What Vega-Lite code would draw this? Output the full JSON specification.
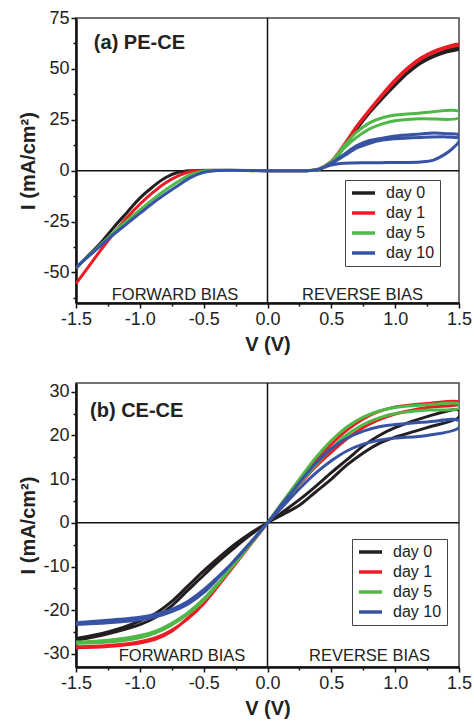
{
  "$schema": "https://vega.github.io/schema/vega-lite/v6.json",
  "padding": {"top": 8, "left": 18, "right": 0, "bottom": 0},
  "background": "white",
  "spacing": 26,
  "config": {
    "font": "Liberation Sans",
    "view": {"stroke": "#444", "strokeWidth": 1.5},
    "axis": {
      "grid": false, "domainColor": "#111", "domainWidth": 2.5, "tickColor": "#111", "tickWidth": 1.5,
      "tickSize": 5, "labelFont": "Liberation Sans", "labelFontSize": 18, "labelColor": "#222",
      "labelPadding": 2, "titleFont": "Liberation Sans", "titleFontSize": 20, "titleFontWeight": "bold",
      "titleColor": "#222", "labelFlush": false, "labelOverlap": false
    },
    "legend": {
      "orient": "none", "title": null, "symbolType": "stroke", "symbolSize": 529, "symbolStrokeWidth": 3.5,
      "labelFont": "Liberation Sans", "labelFontSize": 16, "labelColor": "#222", "strokeColor": "#444",
      "fillColor": "white", "padding": 5, "rowPadding": 4, "clipHeight": 16, "labelOffset": 9
    }
  },
  "datasets": {
    "a": [
      {"day": "day 0", "k": 1, "V": -1.5, "I": -48}, {"day": "day 0", "k": 2, "V": -1.4, "I": -41.5}, {"day": "day 0", "k": 3, "V": -1.3, "I": -35}, {"day": "day 0", "k": 4, "V": -1.2, "I": -27.5}, {"day": "day 0", "k": 5, "V": -1.1, "I": -20.5}, {"day": "day 0", "k": 6, "V": -1.0, "I": -13.5}, {"day": "day 0", "k": 7, "V": -0.9, "I": -8}, {"day": "day 0", "k": 8, "V": -0.8, "I": -3.5}, {"day": "day 0", "k": 9, "V": -0.7, "I": -0.8}, {"day": "day 0", "k": 10, "V": -0.6, "I": 0}, {"day": "day 0", "k": 11, "V": 0, "I": 0}, {"day": "day 0", "k": 12, "V": 0.3, "I": 0}, {"day": "day 0", "k": 13, "V": 0.4, "I": 0.6}, {"day": "day 0", "k": 14, "V": 0.5, "I": 4}, {"day": "day 0", "k": 15, "V": 0.6, "I": 11.5}, {"day": "day 0", "k": 16, "V": 0.7, "I": 20.5}, {"day": "day 0", "k": 17, "V": 0.8, "I": 28.5}, {"day": "day 0", "k": 18, "V": 0.9, "I": 35.5}, {"day": "day 0", "k": 19, "V": 1.0, "I": 42}, {"day": "day 0", "k": 20, "V": 1.1, "I": 48}, {"day": "day 0", "k": 21, "V": 1.2, "I": 52.8}, {"day": "day 0", "k": 22, "V": 1.3, "I": 56}, {"day": "day 0", "k": 23, "V": 1.4, "I": 58.3}, {"day": "day 0", "k": 24, "V": 1.5, "I": 59.8},
      {"day": "day 0", "k": 25, "V": 1.5, "I": 60.5}, {"day": "day 0", "k": 26, "V": 1.4, "I": 59}, {"day": "day 0", "k": 27, "V": 1.3, "I": 56.5}, {"day": "day 0", "k": 28, "V": 1.2, "I": 53.3}, {"day": "day 0", "k": 29, "V": 1.1, "I": 48.6}, {"day": "day 0", "k": 30, "V": 1.0, "I": 42.8}, {"day": "day 0", "k": 31, "V": 0.9, "I": 36.3}, {"day": "day 0", "k": 32, "V": 0.8, "I": 29.2}, {"day": "day 0", "k": 33, "V": 0.7, "I": 21.2}, {"day": "day 0", "k": 34, "V": 0.6, "I": 12.3}, {"day": "day 0", "k": 35, "V": 0.5, "I": 4.5}, {"day": "day 0", "k": 36, "V": 0.4, "I": 0.8}, {"day": "day 0", "k": 37, "V": 0.3, "I": 0},

      {"day": "day 1", "k": 1, "V": -1.5, "I": -55.5}, {"day": "day 1", "k": 2, "V": -1.4, "I": -47}, {"day": "day 1", "k": 3, "V": -1.3, "I": -38.5}, {"day": "day 1", "k": 4, "V": -1.2, "I": -30.5}, {"day": "day 1", "k": 5, "V": -1.1, "I": -23}, {"day": "day 1", "k": 6, "V": -1.0, "I": -16.5}, {"day": "day 1", "k": 7, "V": -0.9, "I": -10.8}, {"day": "day 1", "k": 8, "V": -0.8, "I": -6}, {"day": "day 1", "k": 9, "V": -0.7, "I": -2.5}, {"day": "day 1", "k": 10, "V": -0.6, "I": -0.4}, {"day": "day 1", "k": 11, "V": -0.55, "I": 0}, {"day": "day 1", "k": 12, "V": 0, "I": 0}, {"day": "day 1", "k": 13, "V": 0.3, "I": 0}, {"day": "day 1", "k": 14, "V": 0.4, "I": 0.6}, {"day": "day 1", "k": 15, "V": 0.5, "I": 4.2}, {"day": "day 1", "k": 16, "V": 0.6, "I": 12.3}, {"day": "day 1", "k": 17, "V": 0.7, "I": 21.5}, {"day": "day 1", "k": 18, "V": 0.8, "I": 29.5}, {"day": "day 1", "k": 19, "V": 0.9, "I": 37}, {"day": "day 1", "k": 20, "V": 1.0, "I": 44}, {"day": "day 1", "k": 21, "V": 1.1, "I": 50}, {"day": "day 1", "k": 22, "V": 1.2, "I": 54.8}, {"day": "day 1", "k": 23, "V": 1.3, "I": 58}, {"day": "day 1", "k": 24, "V": 1.4, "I": 60.3}, {"day": "day 1", "k": 25, "V": 1.5, "I": 61.8},
      {"day": "day 1", "k": 26, "V": 1.5, "I": 62.3}, {"day": "day 1", "k": 27, "V": 1.4, "I": 60.8}, {"day": "day 1", "k": 28, "V": 1.3, "I": 58.6}, {"day": "day 1", "k": 29, "V": 1.2, "I": 55.3}, {"day": "day 1", "k": 30, "V": 1.1, "I": 50.6}, {"day": "day 1", "k": 31, "V": 1.0, "I": 44.6}, {"day": "day 1", "k": 32, "V": 0.9, "I": 37.6}, {"day": "day 1", "k": 33, "V": 0.8, "I": 30}, {"day": "day 1", "k": 34, "V": 0.7, "I": 22}, {"day": "day 1", "k": 35, "V": 0.6, "I": 12.8}, {"day": "day 1", "k": 36, "V": 0.5, "I": 4.6}, {"day": "day 1", "k": 37, "V": 0.4, "I": 0.8}, {"day": "day 1", "k": 38, "V": 0.3, "I": 0},

      {"day": "day 5", "k": 1, "V": -1.5, "I": -47.8}, {"day": "day 5", "k": 2, "V": -1.4, "I": -41.8}, {"day": "day 5", "k": 3, "V": -1.3, "I": -36}, {"day": "day 5", "k": 4, "V": -1.2, "I": -30}, {"day": "day 5", "k": 5, "V": -1.1, "I": -24.5}, {"day": "day 5", "k": 6, "V": -1.0, "I": -19.3}, {"day": "day 5", "k": 7, "V": -0.9, "I": -14.2}, {"day": "day 5", "k": 8, "V": -0.8, "I": -9.5}, {"day": "day 5", "k": 9, "V": -0.7, "I": -5.3}, {"day": "day 5", "k": 10, "V": -0.6, "I": -2}, {"day": "day 5", "k": 11, "V": -0.5, "I": -0.3}, {"day": "day 5", "k": 12, "V": -0.45, "I": 0}, {"day": "day 5", "k": 13, "V": 0, "I": 0}, {"day": "day 5", "k": 14, "V": 0.3, "I": 0}, {"day": "day 5", "k": 15, "V": 0.4, "I": 0.6}, {"day": "day 5", "k": 16, "V": 0.5, "I": 4}, {"day": "day 5", "k": 17, "V": 0.6, "I": 11}, {"day": "day 5", "k": 18, "V": 0.7, "I": 16.5}, {"day": "day 5", "k": 19, "V": 0.8, "I": 20.5}, {"day": "day 5", "k": 20, "V": 0.9, "I": 23}, {"day": "day 5", "k": 21, "V": 1.0, "I": 24.5}, {"day": "day 5", "k": 22, "V": 1.2, "I": 25.5}, {"day": "day 5", "k": 23, "V": 1.5, "I": 26},
      {"day": "day 5", "k": 24, "V": 1.5, "I": 29}, {"day": "day 5", "k": 25, "V": 1.2, "I": 28.3}, {"day": "day 5", "k": 26, "V": 1.0, "I": 27.3}, {"day": "day 5", "k": 27, "V": 0.9, "I": 26}, {"day": "day 5", "k": 28, "V": 0.8, "I": 23.5}, {"day": "day 5", "k": 29, "V": 0.7, "I": 19}, {"day": "day 5", "k": 30, "V": 0.6, "I": 12.2}, {"day": "day 5", "k": 31, "V": 0.5, "I": 4.4}, {"day": "day 5", "k": 32, "V": 0.4, "I": 0.8}, {"day": "day 5", "k": 33, "V": 0.3, "I": 0},

      {"day": "day 10", "k": 1, "V": -1.5, "I": -47.5}, {"day": "day 10", "k": 2, "V": -1.4, "I": -42}, {"day": "day 10", "k": 3, "V": -1.3, "I": -36.5}, {"day": "day 10", "k": 4, "V": -1.2, "I": -31}, {"day": "day 10", "k": 5, "V": -1.1, "I": -26}, {"day": "day 10", "k": 6, "V": -1.0, "I": -21}, {"day": "day 10", "k": 7, "V": -0.9, "I": -16}, {"day": "day 10", "k": 8, "V": -0.8, "I": -11.5}, {"day": "day 10", "k": 9, "V": -0.7, "I": -7.3}, {"day": "day 10", "k": 10, "V": -0.6, "I": -3.3}, {"day": "day 10", "k": 11, "V": -0.5, "I": -0.8}, {"day": "day 10", "k": 12, "V": -0.42, "I": 0}, {"day": "day 10", "k": 13, "V": 0, "I": 0}, {"day": "day 10", "k": 14, "V": 0.3, "I": 0}, {"day": "day 10", "k": 15, "V": 0.4, "I": 0.6}, {"day": "day 10", "k": 16, "V": 0.45, "I": 1.8}, {"day": "day 10", "k": 17, "V": 0.5, "I": 2.8}, {"day": "day 10", "k": 18, "V": 0.6, "I": 3.6}, {"day": "day 10", "k": 19, "V": 0.8, "I": 3.9}, {"day": "day 10", "k": 20, "V": 1.0, "I": 4.0}, {"day": "day 10", "k": 21, "V": 1.2, "I": 4.3}, {"day": "day 10", "k": 22, "V": 1.3, "I": 5.2}, {"day": "day 10", "k": 23, "V": 1.4, "I": 8.5}, {"day": "day 10", "k": 24, "V": 1.45, "I": 11}, {"day": "day 10", "k": 25, "V": 1.5, "I": 14.5},
      {"day": "day 10", "k": 26, "V": 1.5, "I": 17.5}, {"day": "day 10", "k": 27, "V": 1.4, "I": 18.2}, {"day": "day 10", "k": 28, "V": 1.3, "I": 18.5}, {"day": "day 10", "k": 29, "V": 1.2, "I": 18}, {"day": "day 10", "k": 30, "V": 1.0, "I": 17}, {"day": "day 10", "k": 31, "V": 0.9, "I": 16}, {"day": "day 10", "k": 32, "V": 0.8, "I": 14.8}, {"day": "day 10", "k": 33, "V": 0.7, "I": 12.3}, {"day": "day 10", "k": 34, "V": 0.6, "I": 8}, {"day": "day 10", "k": 35, "V": 0.5, "I": 3.8}, {"day": "day 10", "k": 36, "V": 0.45, "I": 2}, {"day": "day 10", "k": 37, "V": 0.5, "I": 3.5}, {"day": "day 10", "k": 38, "V": 0.6, "I": 7.3}, {"day": "day 10", "k": 39, "V": 0.7, "I": 11.2}, {"day": "day 10", "k": 40, "V": 0.8, "I": 13.5}, {"day": "day 10", "k": 41, "V": 0.9, "I": 15}, {"day": "day 10", "k": 42, "V": 1.0, "I": 15.7}, {"day": "day 10", "k": 43, "V": 1.2, "I": 16.3}, {"day": "day 10", "k": 44, "V": 1.4, "I": 16.6}, {"day": "day 10", "k": 45, "V": 1.5, "I": 16.2}
    ],
    "b": [
      {"day": "day 0", "k": 1, "V": -1.5, "I": -26.9}, {"day": "day 0", "k": 2, "V": -1.25, "I": -25.4}, {"day": "day 0", "k": 3, "V": -1.0, "I": -23.3}, {"day": "day 0", "k": 4, "V": -0.875, "I": -21.6}, {"day": "day 0", "k": 5, "V": -0.75, "I": -19}, {"day": "day 0", "k": 6, "V": -0.625, "I": -15.5}, {"day": "day 0", "k": 7, "V": -0.5, "I": -12}, {"day": "day 0", "k": 8, "V": -0.375, "I": -8.6}, {"day": "day 0", "k": 9, "V": -0.25, "I": -5.5}, {"day": "day 0", "k": 10, "V": -0.125, "I": -2.6}, {"day": "day 0", "k": 11, "V": 0, "I": 0}, {"day": "day 0", "k": 12, "V": 0.125, "I": 2}, {"day": "day 0", "k": 13, "V": 0.25, "I": 4}, {"day": "day 0", "k": 14, "V": 0.375, "I": 7}, {"day": "day 0", "k": 15, "V": 0.5, "I": 10}, {"day": "day 0", "k": 16, "V": 0.625, "I": 13.3}, {"day": "day 0", "k": 17, "V": 0.75, "I": 16}, {"day": "day 0", "k": 18, "V": 0.875, "I": 18.2}, {"day": "day 0", "k": 19, "V": 1.0, "I": 19.6}, {"day": "day 0", "k": 20, "V": 1.25, "I": 21.8}, {"day": "day 0", "k": 21, "V": 1.5, "I": 24.2},
      {"day": "day 0", "k": 22, "V": 1.5, "I": 25.8}, {"day": "day 0", "k": 23, "V": 1.25, "I": 24.3}, {"day": "day 0", "k": 24, "V": 1.0, "I": 21.8}, {"day": "day 0", "k": 25, "V": 0.875, "I": 20}, {"day": "day 0", "k": 26, "V": 0.75, "I": 17.6}, {"day": "day 0", "k": 27, "V": 0.625, "I": 14.5}, {"day": "day 0", "k": 28, "V": 0.5, "I": 11.5}, {"day": "day 0", "k": 29, "V": 0.375, "I": 8.3}, {"day": "day 0", "k": 30, "V": 0.25, "I": 5.3}, {"day": "day 0", "k": 31, "V": 0.125, "I": 2.6}, {"day": "day 0", "k": 32, "V": 0, "I": 0}, {"day": "day 0", "k": 33, "V": -0.125, "I": -2.2}, {"day": "day 0", "k": 34, "V": -0.25, "I": -4.8}, {"day": "day 0", "k": 35, "V": -0.375, "I": -7.8}, {"day": "day 0", "k": 36, "V": -0.5, "I": -11}, {"day": "day 0", "k": 37, "V": -0.625, "I": -14.5}, {"day": "day 0", "k": 38, "V": -0.75, "I": -18}, {"day": "day 0", "k": 39, "V": -0.875, "I": -20.7}, {"day": "day 0", "k": 40, "V": -1.0, "I": -22.5}, {"day": "day 0", "k": 41, "V": -1.25, "I": -25}, {"day": "day 0", "k": 42, "V": -1.5, "I": -26.5},

      {"day": "day 1", "k": 1, "V": -1.5, "I": -28.6}, {"day": "day 1", "k": 2, "V": -1.25, "I": -28.3}, {"day": "day 1", "k": 3, "V": -1.0, "I": -27.5}, {"day": "day 1", "k": 4, "V": -0.875, "I": -26.6}, {"day": "day 1", "k": 5, "V": -0.75, "I": -24.8}, {"day": "day 1", "k": 6, "V": -0.625, "I": -21.8}, {"day": "day 1", "k": 7, "V": -0.5, "I": -18.3}, {"day": "day 1", "k": 8, "V": -0.375, "I": -13.8}, {"day": "day 1", "k": 9, "V": -0.25, "I": -9.2}, {"day": "day 1", "k": 10, "V": -0.125, "I": -4.6}, {"day": "day 1", "k": 11, "V": 0, "I": 0}, {"day": "day 1", "k": 12, "V": 0.125, "I": 4.4}, {"day": "day 1", "k": 13, "V": 0.25, "I": 8.8}, {"day": "day 1", "k": 14, "V": 0.375, "I": 12.8}, {"day": "day 1", "k": 15, "V": 0.5, "I": 16.2}, {"day": "day 1", "k": 16, "V": 0.625, "I": 19.3}, {"day": "day 1", "k": 17, "V": 0.75, "I": 21.8}, {"day": "day 1", "k": 18, "V": 0.875, "I": 23.6}, {"day": "day 1", "k": 19, "V": 1.0, "I": 24.9}, {"day": "day 1", "k": 20, "V": 1.25, "I": 26.4}, {"day": "day 1", "k": 21, "V": 1.5, "I": 27.2},
      {"day": "day 1", "k": 22, "V": 1.5, "I": 27.7}, {"day": "day 1", "k": 23, "V": 1.25, "I": 27.3}, {"day": "day 1", "k": 24, "V": 1.0, "I": 26.5}, {"day": "day 1", "k": 25, "V": 0.875, "I": 25.5}, {"day": "day 1", "k": 26, "V": 0.75, "I": 23.8}, {"day": "day 1", "k": 27, "V": 0.625, "I": 21.3}, {"day": "day 1", "k": 28, "V": 0.5, "I": 18}, {"day": "day 1", "k": 29, "V": 0.375, "I": 14.2}, {"day": "day 1", "k": 30, "V": 0.25, "I": 9.6}, {"day": "day 1", "k": 31, "V": 0.125, "I": 4.9}, {"day": "day 1", "k": 32, "V": 0, "I": 0}, {"day": "day 1", "k": 33, "V": -0.125, "I": -4.7}, {"day": "day 1", "k": 34, "V": -0.25, "I": -9.4}, {"day": "day 1", "k": 35, "V": -0.375, "I": -14}, {"day": "day 1", "k": 36, "V": -0.5, "I": -18.5}, {"day": "day 1", "k": 37, "V": -0.625, "I": -22}, {"day": "day 1", "k": 38, "V": -0.75, "I": -24.6}, {"day": "day 1", "k": 39, "V": -0.875, "I": -26.3}, {"day": "day 1", "k": 40, "V": -1.0, "I": -27.2}, {"day": "day 1", "k": 41, "V": -1.25, "I": -28.1}, {"day": "day 1", "k": 42, "V": -1.5, "I": -28.4},

      {"day": "day 5", "k": 1, "V": -1.5, "I": -27.6}, {"day": "day 5", "k": 2, "V": -1.25, "I": -27.3}, {"day": "day 5", "k": 3, "V": -1.0, "I": -26.3}, {"day": "day 5", "k": 4, "V": -0.875, "I": -25.2}, {"day": "day 5", "k": 5, "V": -0.75, "I": -23.4}, {"day": "day 5", "k": 6, "V": -0.625, "I": -20.9}, {"day": "day 5", "k": 7, "V": -0.5, "I": -17.8}, {"day": "day 5", "k": 8, "V": -0.375, "I": -13.6}, {"day": "day 5", "k": 9, "V": -0.25, "I": -9.1}, {"day": "day 5", "k": 10, "V": -0.125, "I": -4.6}, {"day": "day 5", "k": 11, "V": 0, "I": 0}, {"day": "day 5", "k": 12, "V": 0.125, "I": 4.5}, {"day": "day 5", "k": 13, "V": 0.25, "I": 9}, {"day": "day 5", "k": 14, "V": 0.375, "I": 13.2}, {"day": "day 5", "k": 15, "V": 0.5, "I": 17}, {"day": "day 5", "k": 16, "V": 0.625, "I": 20.2}, {"day": "day 5", "k": 17, "V": 0.75, "I": 22.5}, {"day": "day 5", "k": 18, "V": 0.875, "I": 24}, {"day": "day 5", "k": 19, "V": 1.0, "I": 25}, {"day": "day 5", "k": 20, "V": 1.25, "I": 25.8}, {"day": "day 5", "k": 21, "V": 1.5, "I": 26.2},
      {"day": "day 5", "k": 22, "V": 1.5, "I": 27.2}, {"day": "day 5", "k": 23, "V": 1.25, "I": 27}, {"day": "day 5", "k": 24, "V": 1.0, "I": 26.4}, {"day": "day 5", "k": 25, "V": 0.875, "I": 25.6}, {"day": "day 5", "k": 26, "V": 0.75, "I": 24.2}, {"day": "day 5", "k": 27, "V": 0.625, "I": 22}, {"day": "day 5", "k": 28, "V": 0.5, "I": 18.8}, {"day": "day 5", "k": 29, "V": 0.375, "I": 14.8}, {"day": "day 5", "k": 30, "V": 0.25, "I": 10}, {"day": "day 5", "k": 31, "V": 0.125, "I": 5}, {"day": "day 5", "k": 32, "V": 0, "I": 0}, {"day": "day 5", "k": 33, "V": -0.125, "I": -4.5}, {"day": "day 5", "k": 34, "V": -0.25, "I": -9}, {"day": "day 5", "k": 35, "V": -0.375, "I": -13.4}, {"day": "day 5", "k": 36, "V": -0.5, "I": -17.4}, {"day": "day 5", "k": 37, "V": -0.625, "I": -20.6}, {"day": "day 5", "k": 38, "V": -0.75, "I": -23}, {"day": "day 5", "k": 39, "V": -0.875, "I": -24.8}, {"day": "day 5", "k": 40, "V": -1.0, "I": -25.8}, {"day": "day 5", "k": 41, "V": -1.25, "I": -26.9}, {"day": "day 5", "k": 42, "V": -1.5, "I": -27.3},

      {"day": "day 10", "k": 1, "V": -1.5, "I": -23.3}, {"day": "day 10", "k": 2, "V": -1.25, "I": -22.9}, {"day": "day 10", "k": 3, "V": -1.0, "I": -22.2}, {"day": "day 10", "k": 4, "V": -0.875, "I": -21.5}, {"day": "day 10", "k": 5, "V": -0.75, "I": -20.3}, {"day": "day 10", "k": 6, "V": -0.625, "I": -18.6}, {"day": "day 10", "k": 7, "V": -0.5, "I": -16}, {"day": "day 10", "k": 8, "V": -0.375, "I": -12.3}, {"day": "day 10", "k": 9, "V": -0.25, "I": -8.3}, {"day": "day 10", "k": 10, "V": -0.125, "I": -4.2}, {"day": "day 10", "k": 11, "V": 0, "I": 0}, {"day": "day 10", "k": 12, "V": 0.125, "I": 3.9}, {"day": "day 10", "k": 13, "V": 0.25, "I": 7.8}, {"day": "day 10", "k": 14, "V": 0.375, "I": 11.3}, {"day": "day 10", "k": 15, "V": 0.5, "I": 14.2}, {"day": "day 10", "k": 16, "V": 0.625, "I": 16.5}, {"day": "day 10", "k": 17, "V": 0.75, "I": 18}, {"day": "day 10", "k": 18, "V": 0.875, "I": 18.9}, {"day": "day 10", "k": 19, "V": 1.0, "I": 19.4}, {"day": "day 10", "k": 20, "V": 1.25, "I": 20}, {"day": "day 10", "k": 21, "V": 1.5, "I": 21.8},
      {"day": "day 10", "k": 22, "V": 1.5, "I": 23.4}, {"day": "day 10", "k": 23, "V": 1.25, "I": 23.1}, {"day": "day 10", "k": 24, "V": 1.0, "I": 22.5}, {"day": "day 10", "k": 25, "V": 0.875, "I": 22}, {"day": "day 10", "k": 26, "V": 0.75, "I": 21}, {"day": "day 10", "k": 27, "V": 0.625, "I": 19.4}, {"day": "day 10", "k": 28, "V": 0.5, "I": 17}, {"day": "day 10", "k": 29, "V": 0.375, "I": 13.5}, {"day": "day 10", "k": 30, "V": 0.25, "I": 9.2}, {"day": "day 10", "k": 31, "V": 0.125, "I": 4.7}, {"day": "day 10", "k": 32, "V": 0, "I": 0}, {"day": "day 10", "k": 33, "V": -0.125, "I": -4.3}, {"day": "day 10", "k": 34, "V": -0.25, "I": -8.4}, {"day": "day 10", "k": 35, "V": -0.375, "I": -12}, {"day": "day 10", "k": 36, "V": -0.5, "I": -15.3}, {"day": "day 10", "k": 37, "V": -0.625, "I": -18}, {"day": "day 10", "k": 38, "V": -0.75, "I": -19.8}, {"day": "day 10", "k": 39, "V": -0.875, "I": -20.9}, {"day": "day 10", "k": 40, "V": -1.0, "I": -21.6}, {"day": "day 10", "k": 41, "V": -1.25, "I": -22.3}, {"day": "day 10", "k": 42, "V": -1.5, "I": -22.9}
    ]
  },
  "resolve": {"scale": {"x": "independent", "y": "independent", "color": "independent"}, "legend": {"color": "independent"}},
  "vconcat": [
    {
      "width": 383, "height": 285,
      "resolve": {"axis": {"x": "independent", "y": "independent"}},
      "layer": [
        {
          "data": {"values": [{"z": 0}]},
          "mark": {"type": "rule", "color": "#111", "strokeWidth": 1.5},
          "encoding": {"x": {"field": "z", "type": "quantitative", "axis": {"orient": "bottom", "values": [-1.25, -0.75, -0.25, 0.25, 0.75, 1.25], "labels": false, "domain": false, "tickSize": 3, "title": null}}}
        },
        {
          "data": {"values": [{"z": 0}]},
          "mark": {"type": "rule", "color": "#111", "strokeWidth": 1.5},
          "encoding": {"y": {"field": "z", "type": "quantitative", "axis": {"orient": "left", "values": [-62.5, -37.5, -12.5, 12.5, 37.5, 62.5], "labels": false, "domain": false, "tickSize": 3, "title": null}}}
        },
        {
          "data": {"name": "a"},
          "mark": {"type": "line", "strokeWidth": 3, "interpolate": "catmull-rom", "clip": true},
          "encoding": {
            "x": {"field": "V", "type": "quantitative", "scale": {"domain": [-1.5, 1.5], "nice": false, "zero": false}, "axis": {"orient": "bottom", "values": [-1.5, -1, -0.5, 0, 0.5, 1, 1.5], "format": ".1f", "labelExpr": "replace(datum.label, '−', '-')", "title": "V (V)", "titlePadding": 6}},
            "y": {"field": "I", "type": "quantitative", "scale": {"domain": [-65, 75], "nice": false, "zero": false}, "axis": {"orient": "left", "values": [-50, -25, 0, 25, 50, 75], "labelExpr": "replace(datum.label, '−', '-')", "title": "I (mA/cm²)", "titlePadding": 4}},
            "color": {"field": "day", "type": "nominal", "sort": ["day 0", "day 1", "day 5", "day 10"], "scale": {"domain": ["day 0", "day 1", "day 5", "day 10"], "range": ["#231f20", "#ed1c24", "#50b848", "#3953a4"]}, "legend": {"legendX": 269, "legendY": 162}},
            "order": {"field": "k", "type": "quantitative"}
          }
        },
        {
          "data": {"values": [{"V": -1.36, "I": 60, "t": "(a) PE-CE"}]},
          "mark": {"type": "text", "align": "left", "baseline": "alphabetic", "fontSize": 20, "fontWeight": "bold", "color": "#222"},
          "encoding": {"x": {"field": "V", "type": "quantitative", "axis": null}, "y": {"field": "I", "type": "quantitative", "axis": null}, "text": {"field": "t"}}
        },
        {
          "data": {"values": [{"V": -1.22, "I": -63.4, "t": "FORWARD BIAS"}, {"V": 0.27, "I": -63.4, "t": "REVERSE BIAS"}]},
          "mark": {"type": "text", "align": "left", "baseline": "alphabetic", "fontSize": 16.5, "color": "#222"},
          "encoding": {"x": {"field": "V", "type": "quantitative", "axis": null}, "y": {"field": "I", "type": "quantitative", "axis": null}, "text": {"field": "t"}}
        }
      ]
    },
    {
      "width": 383, "height": 284,
      "resolve": {"axis": {"x": "independent", "y": "independent"}},
      "layer": [
        {
          "data": {"values": [{"z": 0}]},
          "mark": {"type": "rule", "color": "#111", "strokeWidth": 1.5},
          "encoding": {"x": {"field": "z", "type": "quantitative", "axis": {"orient": "bottom", "values": [-1.25, -0.75, -0.25, 0.25, 0.75, 1.25], "labels": false, "domain": false, "tickSize": 3, "title": null}}}
        },
        {
          "data": {"values": [{"z": 0}]},
          "mark": {"type": "rule", "color": "#111", "strokeWidth": 1.5},
          "encoding": {"y": {"field": "z", "type": "quantitative", "axis": {"orient": "left", "values": [-25, -15, -5, 5, 15, 25], "labels": false, "domain": false, "tickSize": 3, "title": null}}}
        },
        {
          "data": {"name": "b"},
          "mark": {"type": "line", "strokeWidth": 3, "interpolate": "catmull-rom", "clip": true},
          "encoding": {
            "x": {"field": "V", "type": "quantitative", "scale": {"domain": [-1.5, 1.5], "nice": false, "zero": false}, "axis": {"orient": "bottom", "values": [-1.5, -1, -0.5, 0, 0.5, 1, 1.5], "format": ".1f", "labelExpr": "replace(datum.label, '−', '-')", "title": "V (V)", "titlePadding": 6}},
            "y": {"field": "I", "type": "quantitative", "scale": {"domain": [-33, 32], "nice": false, "zero": false}, "axis": {"orient": "left", "values": [-30, -20, -10, 0, 10, 20, 30], "labelExpr": "replace(datum.label, '−', '-')", "title": "I (mA/cm²)", "titlePadding": 4}},
            "color": {"field": "day", "type": "nominal", "sort": ["day 0", "day 1", "day 5", "day 10"], "scale": {"domain": ["day 0", "day 1", "day 5", "day 10"], "range": ["#231f20", "#ed1c24", "#50b848", "#3953a4"]}, "legend": {"legendX": 276, "legendY": 156}},
            "order": {"field": "k", "type": "quantitative"}
          }
        },
        {
          "data": {"values": [{"V": -1.39, "I": 24.3, "t": "(b) CE-CE"}]},
          "mark": {"type": "text", "align": "left", "baseline": "alphabetic", "fontSize": 20, "fontWeight": "bold", "color": "#222"},
          "encoding": {"x": {"field": "V", "type": "quantitative", "axis": null}, "y": {"field": "I", "type": "quantitative", "axis": null}, "text": {"field": "t"}}
        },
        {
          "data": {"values": [{"V": -1.165, "I": -31.6, "t": "FORWARD BIAS"}, {"V": 0.325, "I": -31.6, "t": "REVERSE BIAS"}]},
          "mark": {"type": "text", "align": "left", "baseline": "alphabetic", "fontSize": 16.5, "color": "#222"},
          "encoding": {"x": {"field": "V", "type": "quantitative", "axis": null}, "y": {"field": "I", "type": "quantitative", "axis": null}, "text": {"field": "t"}}
        }
      ]
    }
  ]
}
